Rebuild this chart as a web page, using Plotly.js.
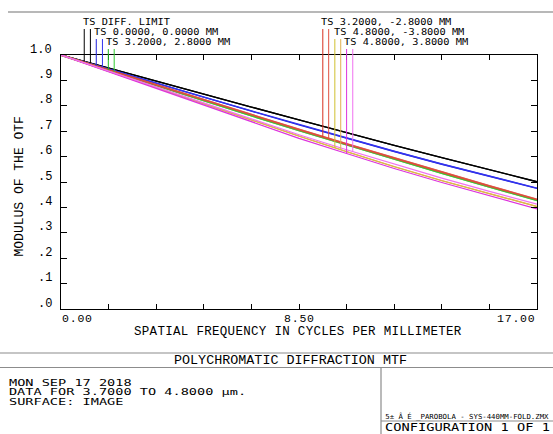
<!DOCTYPE html>
<html><head><meta charset="utf-8">
<script src="https://cdn.plot.ly/plotly-3.0.1.min.js"></script>
<style>
html,body{margin:0;padding:0;background:#fff;overflow:hidden;}
#chart{width:553px;height:434px;}
</style>
</head><body><div id="chart"></div>
<script>
// ---- data ----
const freq = [0, 1.7, 3.4, 5.1, 6.8, 8.5, 10.2, 11.9, 13.6, 15.3, 17.0];
const diffT = [1.000, 0.948, 0.897, 0.846, 0.795, 0.745, 0.694, 0.644, 0.596, 0.549, 0.501];
const diffS = [1.000, 0.948, 0.897, 0.846, 0.795, 0.745, 0.694, 0.644, 0.596, 0.549, 0.501];
const axisT = [1.000, 0.944, 0.888, 0.833, 0.779, 0.725, 0.672, 0.620, 0.570, 0.522, 0.475];
const axisS = [1.000, 0.944, 0.889, 0.834, 0.780, 0.726, 0.673, 0.621, 0.571, 0.523, 0.476];
const f1T = [1.000, 0.940, 0.879, 0.820, 0.761, 0.703, 0.646, 0.590, 0.535, 0.481, 0.427];
const f1S = [1.000, 0.940, 0.879, 0.820, 0.761, 0.703, 0.646, 0.590, 0.535, 0.481, 0.428];
const f2T = [1.000, 0.941, 0.882, 0.823, 0.765, 0.707, 0.650, 0.594, 0.539, 0.485, 0.432];
const f2S = [1.000, 0.941, 0.881, 0.822, 0.764, 0.706, 0.649, 0.593, 0.538, 0.484, 0.431];
const f3T = [1.000, 0.936, 0.871, 0.807, 0.743, 0.680, 0.619, 0.560, 0.505, 0.453, 0.403];
const f3S = [1.000, 0.936, 0.872, 0.808, 0.744, 0.681, 0.620, 0.561, 0.506, 0.454, 0.404];
const f4T = [1.000, 0.934, 0.868, 0.802, 0.736, 0.672, 0.612, 0.553, 0.498, 0.445, 0.394];
const f4S = [1.000, 0.937, 0.874, 0.811, 0.748, 0.686, 0.627, 0.570, 0.515, 0.463, 0.413];

const fieldLabels = ['TS DIFF. LIMIT', 'TS 0.0000, 0.0000 MM', 'TS 3.2000, 2.8000 MM',
                     'TS 3.2000, -2.8000 MM', 'TS 4.8000, -3.8000 MM', 'TS 4.8000, 3.8000 MM'];
const leaderT = [0.83, 1.26, 1.69, 9.35, 9.78, 10.20];
const leaderS = [1.05, 1.48, 1.90, 9.56, 9.99, 10.42];

const yTickVals = [0, 0.1, 0.2, 0.3, 0.4, 0.5, 0.6, 0.7, 0.8, 0.9, 1.0];
const yTickText = ['.0', '.1', '.2', '.3', '.4', '.5', '.6', '.7', '.8', '.9', '1.0'];
const xTickVals = [0, 1.7, 3.4, 5.1, 6.8, 8.5, 10.2, 11.9, 13.6, 15.3, 17.0];
const xLabelVals = [0, 8.5, 17.0];
const xLabelText = ['0.00', '8.50', '17.00'];

const xTitle = 'SPATIAL FREQUENCY IN CYCLES PER MILLIMETER';
const yTitle = 'MODULUS OF THE OTF';
const plotTitle = 'POLYCHROMATIC DIFFRACTION MTF';
const infoLines = ['MON SEP 17 2018', 'DATA FOR 3.7000 TO 4.8000 \u00b5m.', 'SURFACE: IMAGE'];
const fileLine = '5\u00b1 \u00c2 \u00c9 _PAROBOLA - SYS-440MM-FOLD.ZMX';
const configLine = 'CONFIGURATION 1 OF 1';

// ---- styling ----
const MONO = 'Liberation Mono, DejaVu Sans Mono, monospace';
const DJV = 'DejaVu Sans Mono, monospace';
const fields = [
  {T: diffT, S: diffS, cT: '#000000', cS: '#000000', w: 1.3, op: 1},
  {T: axisT, S: axisS, cT: '#2222dd', cS: '#3333ee', w: 1.4, op: 1},
  {T: f1T, S: f1S, cT: '#22bb22', cS: '#33cc33', w: 1.7, op: 0.85},
  {T: f2T, S: f2S, cT: '#d83020', cS: '#e05040', w: 1.7, op: 0.8},
  {T: f3T, S: f3S, cT: '#d0c030', cS: '#e0b050', w: 1.2, op: 1},
  {T: f4T, S: f4S, cT: '#dd33dd', cS: '#f070f0', w: 1.2, op: 1}
];

const L = 61, R = 537, T = 55, B = 309;
const px = x => (x - L) / (R - L);
const py = y => (B - y) / (B - T);

function interp(xs, ys, x) {
  for (let i = 0; i < xs.length - 1; i++) {
    if (x >= xs[i] && x <= xs[i + 1]) {
      const t = (x - xs[i]) / (xs[i + 1] - xs[i]);
      return ys[i] + t * (ys[i + 1] - ys[i]);
    }
  }
  return ys[ys.length - 1];
}

const traces = [];
fields.forEach((f) => {
  traces.push({x: freq, y: f.T, type: 'scatter', mode: 'lines', line: {color: f.cT, width: f.w}, opacity: f.op, hoverinfo: 'skip'});
  traces.push({x: freq, y: f.S, type: 'scatter', mode: 'lines', line: {color: f.cS, width: f.w}, opacity: f.op, hoverinfo: 'skip'});
});

const shapes = [];
const rowTop = [py(29), py(39), py(49)];
fields.forEach((f, i) => {
  const top = rowTop[i % 3];
  shapes.push({type: 'line', xref: 'x', yref: 'paper', x0: leaderT[i], x1: leaderT[i], y0: interp(freq, f.T, leaderT[i]), y1: top, line: {color: f.cT, width: 1}});
  shapes.push({type: 'line', xref: 'x', yref: 'paper', x0: leaderS[i], x1: leaderS[i], y0: interp(freq, f.S, leaderS[i]), y1: top, line: {color: f.cS, width: 1}});
});
const gray = '#8c8c8c';
function hline(x0, x1, y, c, w) { shapes.push({type: 'line', xref: 'paper', yref: 'paper', x0: px(x0), x1: px(x1), y0: py(y), y1: py(y), line: {color: c, width: w}}); }
function vline(x, y0, y1, c, w) { shapes.push({type: 'line', xref: 'paper', yref: 'paper', x0: px(x), x1: px(x), y0: py(y0), y1: py(y1), line: {color: c, width: w}}); }
hline(8, 553, 12, '#a0a0a0', 1.5);
hline(0, 553, 353, gray, 1.2);
hline(0, 553, 367.5, gray, 1.2);
vline(381, 367.5, 434, gray, 1.2);
hline(381, 553, 421, gray, 1.2);

const ann = [];
const stretch = {};
const ls = (s, v) => '<span style="letter-spacing:' + v + 'px">' + s + '</span>';
function txt(text, x, y, size, xanchor, family, extra) {
  ann.push(Object.assign({text: text, xref: 'paper', yref: 'paper', x: px(x), y: py(y), xanchor: xanchor, yanchor: 'middle',
    showarrow: false, font: {family: family, size: size, color: '#000'}, borderpad: 0}, extra || {}));
  return ann.length - 1;
}
const labelX = [82, 93, 105, 320, 332.5, 343];
const labelY = [21.5, 31.75, 42];
fieldLabels.forEach((s, i) => { stretch[txt(s, labelX[i], labelY[i % 3], 8.6, 'left', DJV)] = 1.2; });

yTickVals.forEach((v, i) => {
  ann.push({text: yTickText[i], xref: 'paper', yref: 'y', x: px(53), y: v, yshift: 5.5, xanchor: 'right', yanchor: 'middle',
    showarrow: false, font: {family: MONO, size: 12, color: '#000'}, borderpad: 0});
});
xLabelVals.forEach((v, i) => {
  ann.push({text: ls(xLabelText[i], 0.8), xref: 'x', yref: 'paper', x: v, y: py(318), xanchor: i === 0 ? 'left' : (i === 2 ? 'right' : 'center'), yanchor: 'middle',
    showarrow: false, font: {family: MONO, size: 11.5, color: '#000'}, borderpad: 0});
});
txt(ls(xTitle, 0.3), 298, 332, 12.5, 'center', MONO);
txt(yTitle, 19, 186.5, 13, 'center', MONO, {textangle: -90});
txt(plotTitle, 290, 360.3, 13.4, 'center', MONO);
stretch[txt(infoLines[0], 8, 383.5, 7.9, 'left', DJV)] = 1.72;
stretch[txt(infoLines[1], 8, 392.8, 7.9, 'left', DJV)] = 1.72;
stretch[txt(infoLines[2], 8, 402.1, 7.9, 'left', DJV)] = 1.72;
stretch[txt(fileLine, 384, 416.3, 7, 'left', DJV)] = 1.05;
stretch[txt(configLine, 384, 427.2, 10, 'left', DJV)] = 1.37;

// horizontal stretch of the wide plotter-style texts
let css = '';
Object.keys(stretch).forEach(k => {
  css += 'g.annotation[data-index="' + k + '"] text{transform:scaleX(' + stretch[k] + ');transform-box:fill-box;transform-origin:0 50%;}\n';
});
const st = document.createElement('style'); st.textContent = css; document.head.appendChild(st);

const layout = {
  width: 553, height: 434,
  margin: {l: L, r: 553 - R, t: T, b: 434 - B, pad: 0},
  paper_bgcolor: '#ffffff', plot_bgcolor: '#ffffff',
  showlegend: false,
  xaxis: {range: [0, 17], tickvals: xTickVals, showticklabels: false, ticks: 'inside', ticklen: 5, tickcolor: '#000', tickwidth: 1,
          showline: true, linecolor: '#000', linewidth: 1, mirror: 'ticks', showgrid: false, zeroline: false, fixedrange: true},
  yaxis: {range: [0, 1], tickvals: yTickVals, showticklabels: false, ticks: 'inside', ticklen: 6, tickcolor: '#000', tickwidth: 1,
          showline: true, linecolor: '#000', linewidth: 1, mirror: 'ticks', showgrid: false, zeroline: false, fixedrange: true},
  shapes: shapes,
  annotations: ann
};

Plotly.newPlot('chart', traces, layout, {staticPlot: true, displayModeBar: false});
</script>
</body></html>
